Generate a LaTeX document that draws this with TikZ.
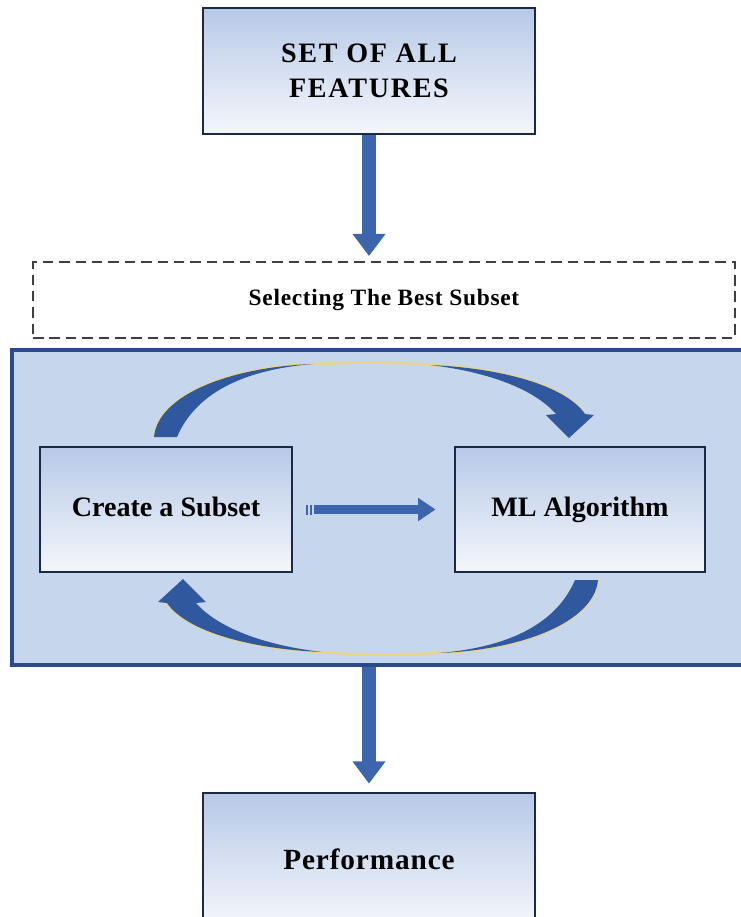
\documentclass[tikz,border=0pt]{standalone}
\usepackage{fontspec}
\setmainfont{Liberation Serif}
\usetikzlibrary{arrows.meta}
\definecolor{boxtop}{HTML}{B7C9E7}
\definecolor{boxbot}{HTML}{F4F6FB}
\definecolor{boxline}{HTML}{1B2847}
\definecolor{loopfill}{HTML}{C6D6EC}
\definecolor{loopline}{HTML}{2D4A88}
\definecolor{arrowblue}{HTML}{3D65AE}
\definecolor{curveblue}{HTML}{30589F}
\definecolor{rimgold}{HTML}{E9D58A}
\tikzset{
	stepbox/.style={draw=boxline,line width=2.4pt,top color=boxtop,bottom color=boxbot,align=center},
	loopbox/.style={draw=loopline,line width=2.6pt,fill=loopfill},
	selectbox/.style={draw=black!75,line width=1.6pt,dash pattern=on 9pt off 5pt},
	bigarrow/.style={draw=arrowblue,line width=12pt,-{Triangle[width=27pt,length=19pt]}},
	midarrow/.style={draw=arrowblue,line width=8.5pt,-{Triangle[width=19pt,length=15pt]}}
}
\newcommand{\looparrow}[1]{%
	\draw[rimgold,line width=2pt,#1] (154,437) .. controls (158,395) and (230,367) .. (313,364) .. controls (360,362) and (400,362) .. (430,365) .. controls (500,368) and (565,385) .. (585,414);
	\fill[curveblue,#1] (154,437) .. controls (158,395) and (230,367) .. (313,364) .. controls (240,370) and (195,395) .. (177,437) -- cycle;
	\fill[curveblue,#1] (430,365) .. controls (500,368) and (565,385) .. (585,414) -- (594,415) -- (569,438) -- (546,415) -- (556,414) .. controls (535,390) and (490,372) .. (430,365) -- cycle;
}

\begin{document}
\begin{tikzpicture}[line cap=butt,line join=miter,x=0.03cm,y=-0.03cm]
		\useasboundingbox (0,0) rectangle (741,917);
		\clip (0,0) rectangle (741,917);
		\node[stepbox,minimum width=9.96cm,minimum height=3.78cm,font=\fontsize{24}{30}\selectfont\bfseries\addfontfeature{LetterSpace=6}] (feat) at (369,71) {SET OF ALL\\FEATURES};
		\node[selectbox,minimum width=21.06cm,minimum height=2.28cm,font=\fontsize{20}{24}\selectfont\bfseries\addfontfeature{LetterSpace=3}] (select) at (384,300) {Selecting The Best Subset};
		\node[loopbox,minimum width=22.02cm,minimum height=9.45cm] (loop) at (379,507.5) {};
		\node[stepbox,minimum width=7.56cm,minimum height=3.75cm,text height=17pt,text depth=5pt,font=\fontsize{24}{28}\selectfont\bfseries] (create) at (166,509.5) {Create a Subset};
		\node[stepbox,minimum width=7.5cm,minimum height=3.75cm,text height=17pt,text depth=5pt,font=\fontsize{24}{28}\selectfont\bfseries] (ml) at (580,509.5) {ML Algorithm};
		\node[stepbox,minimum width=9.96cm,minimum height=3.96cm,font=\fontsize{25}{30}\selectfont\bfseries\addfontfeature{LetterSpace=3}] (perf) at (369,859) {Performance};
		\draw[bigarrow,shorten >=0.15cm] (feat.south) -- (feat.south |- select.north);
		\draw[bigarrow,shorten >=0.24cm] (feat.south |- loop.south) -- (perf.north);
		\fill[arrowblue] ([xshift=0.39cm]create.east) ++(0,-5) rectangle ++(2,10);
		\fill[arrowblue] ([xshift=0.51cm]create.east) ++(0,-5) rectangle ++(2,10);
		\draw[midarrow,shorten <=0.63cm,shorten >=0.54cm] (create) -- (ml);
		\looparrow{}
		\looparrow{rotate around={180:(376,508.5)}}
	\end{tikzpicture}
\end{document}
